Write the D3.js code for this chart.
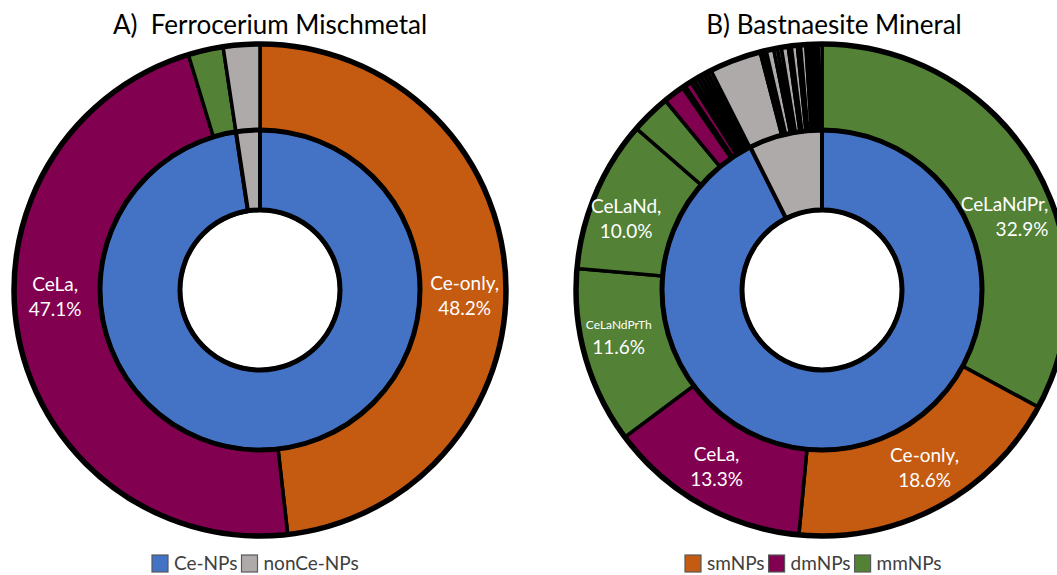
<!DOCTYPE html>
<html>
<head>
<meta charset="utf-8">
<script src="https://cdn.jsdelivr.net/npm/d3@7"></script>
<style>
  body { margin: 0; background: #fff; }
  text { font-family: Lato, "Open Sans", sans-serif; }
</style>
</head>
<body>
<div id="chart"></div>
<script>
// ---- data ----
var innerCats = ["Ce-NPs", "nonCe-NPs"];
var innerA = [97.6, 2.4];
var innerB = [92.6, 7.4];

var outerNamesA = ["Ce-only", "CeLa", "mmNP", "nonCe"];
var outerTypesA = ["sm", "dm", "mm", "non"];
var outerA = [48.2, 47.1, 2.3, 2.4];

var outerNamesB = ["CeLaNdPr", "Ce-only", "CeLa", "CeLaNdPrTh", "CeLaNd", "mm1", "dm1", "dm2", "dm3",
  "t1", "t2", "t3", "t4", "t5", "t6",
  "n1", "n2", "n3", "n4", "n5", "n6", "n7", "n8", "n9", "n10", "n11", "n12", "n13", "n14", "n15", "n16"];
var outerTypesB = ["mm", "sm", "dm", "mm", "mm", "mm", "dm", "dm", "dm",
  "dm", "mm", "dm", "mm", "dm", "mm",
  "non", "non", "non", "non", "non", "non", "non", "non", "non", "non", "non", "non", "non", "non", "non", "non"];
var outerB = [32.9, 18.6, 13.3, 11.6, 10.0, 2.6, 1.4, 0.2, 0.45,
  0.25, 0.25, 0.25, 0.25, 0.25, 0.25,
  3.4, 0.2, 0.2, 0.5, 0.25, 0.25, 0.45, 0.2, 0.4, 0.2, 0.35, 0.2, 0.2, 0.2, 0.2, 0.25];

var labelsA = [{i: 0, l1: "Ce-only,", l2: "48.2%"}, {i: 1, l1: "CeLa,", l2: "47.1%"}];
var labelsB = [{i: 0, l1: "CeLaNdPr,", l2: "32.9%"}, {i: 1, l1: "Ce-only,", l2: "18.6%"},
  {i: 2, l1: "CeLa,", l2: "13.3%"}, {i: 3, l1: "CeLaNdPrTh", l2: "11.6%"}, {i: 4, l1: "CeLaNd,", l2: "10.0%"}];

var legendA = ["Ce-NPs", "nonCe-NPs"];
var legendB = ["smNPs", "dmNPs", "mmNPs"];

// ---- styling ----
var colors = {ce: "#4472c4", non: "#aeaaaa", sm: "#c55a11", dm: "#820050", mm: "#538135"};
var innerColors = [colors.ce, colors.non];

var width = 1057, height = 575;
var r0 = 80, r1 = 160, r2 = 246;

// label tweaks relative to arc centroid (dx, dy, anchor, size)
var labelTweakA = [[2, 11, "middle", 19], [-6, -40, "middle", 19]];
var labelTweakB = [[52, 25, "end", 19], [7, -7, "middle", 19], [-6, -6, "middle", 19],
  [-8, -16, "middle", 12], [-9, 2, "middle", 19]];

var svg = d3.select("#chart").append("svg")
  .attr("width", width)
  .attr("height", height);

var pie = d3.pie().sort(null).value(d => d);

function drawDonut(cx, cy, innerVals, outerVals, outerTypes, labels, tweaks) {
  var g = svg.append("g").attr("transform", `translate(${cx}, ${cy})`);

  var arcIn = d3.arc().innerRadius(r0).outerRadius(r1);
  var arcOut = d3.arc().innerRadius(r1).outerRadius(r2);
  var arcLab = d3.arc().innerRadius(203).outerRadius(203);

  g.selectAll(".inner")
    .data(pie(innerVals)).enter()
    .append("path")
    .attr("class", "inner")
    .attr("d", arcIn)
    .style("fill", (d, i) => innerColors[i])
    .style("stroke", "#000")
    .style("stroke-width", 4)
    .style("stroke-linejoin", "miter");

  var outArcs = pie(outerVals);
  g.selectAll(".outer")
    .data(outArcs).enter()
    .append("path")
    .attr("class", "outer")
    .attr("d", arcOut)
    .style("fill", (d, i) => colors[outerTypes[i]])
    .style("stroke", "#000")
    .style("stroke-width", 3.5)
    .style("stroke-linejoin", "miter");

  // heavier rims
  [r0, r1, r2].forEach(function(r, k) {
    g.append("circle")
      .attr("r", r)
      .style("fill", "none")
      .style("stroke", "#000")
      .style("stroke-width", k == 2 ? 5.5 : 5);
  });

  labels.forEach(function(lab, k) {
    var c = arcLab.centroid(outArcs[lab.i]);
    var t = tweaks[k];
    var x = c[0] + t[0], y = c[1] + t[1];
    g.append("text")
      .attr("x", x).attr("y", y)
      .attr("text-anchor", t[2])
      .style("fill", "#fff")
      .style("font-size", t[3] + "px")
      .text(lab.l1);
    g.append("text")
      .attr("x", x).attr("y", y + 25)
      .attr("text-anchor", t[2])
      .style("fill", "#fff")
      .style("font-size", "19px")
      .text(lab.l2);
  });
}

drawDonut(260, 290, innerA, outerA, outerTypesA, labelsA, labelTweakA);
drawDonut(822, 290, innerB, outerB, outerTypesB, labelsB, labelTweakB);

// titles
svg.append("text")
  .attr("x", 270).attr("y", 34)
  .attr("text-anchor", "middle")
  .style("font-size", "26px")
  .style("fill", "#000")
  .attr("xml:space", "preserve")
  .text("A)  Ferrocerium Mischmetal");

svg.append("text")
  .attr("x", 834).attr("y", 34)
  .attr("text-anchor", "middle")
  .style("font-size", "26px")
  .style("fill", "#000")
  .text("B) Bastnaesite Mineral");

// legends
function drawLegend(x0, names, cols) {
  var g = svg.append("g").attr("transform", `translate(${x0}, 555)`);
  var x = 0;
  names.forEach(function(n, i) {
    g.append("rect")
      .attr("x", x).attr("y", 0)
      .attr("width", 16).attr("height", 17)
      .style("fill", cols[i])
      .style("stroke", "#595959")
      .style("stroke-width", 1.2);
    var t = g.append("text")
      .attr("x", x + 22).attr("y", 15)
      .style("font-size", "19px")
      .style("fill", "#404040")
      .text(n);
    x += 22 + t.node().getComputedTextLength() + 4;
  });
}
drawLegend(152, legendA, [colors.ce, colors.non]);
drawLegend(685, legendB, [colors.sm, colors.dm, colors.mm]);
</script>
</body>
</html>
